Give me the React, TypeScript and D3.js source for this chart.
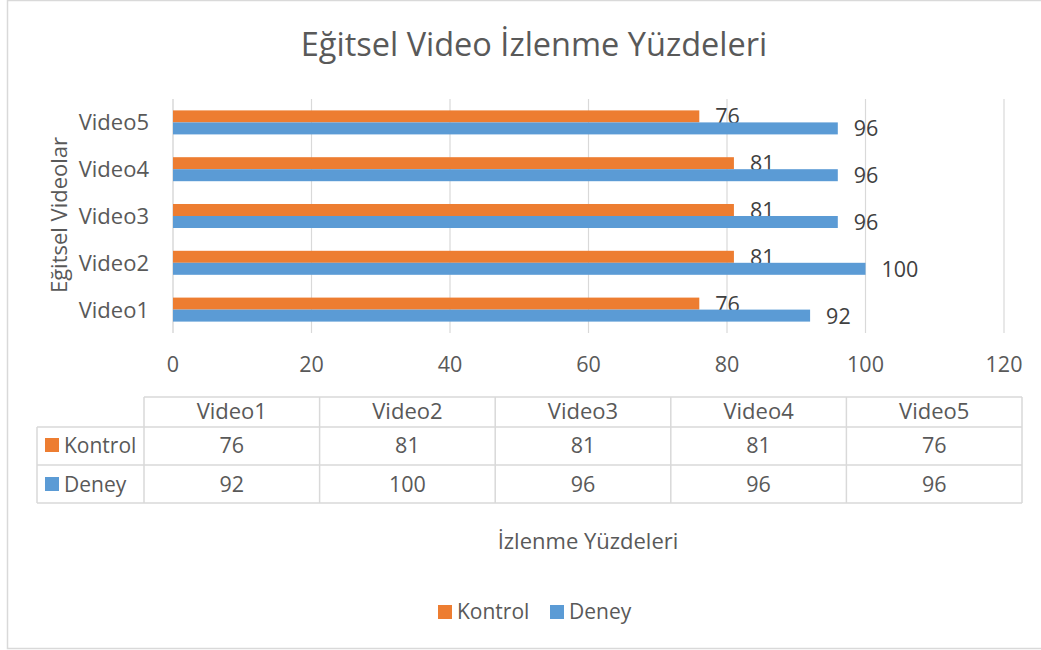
import { useEffect, useRef } from 'react';
import * as d3 from 'd3';

const categories = ["Video1", "Video2", "Video3", "Video4", "Video5"];
const seriesNames = ["Kontrol", "Deney"];
const kontrolValues = [76, 81, 81, 81, 76];
const deneyValues = [92, 100, 96, 96, 96];
const xTicks = [0, 20, 40, 60, 80, 100, 120];

const COLORS: Record<string, string> = {
  "Kontrol": "#ED7D31",
  "Deney": "#5B9BD5"
};

const TEXT = "#595959";
const GRID = "#D9D9D9";
const FONT = "'Open Sans', sans-serif";
const LABEL_SIZE = "22px";
const NUM_SIZE = "21.5px";

export default function App() {
  const svgRef = useRef<SVGSVGElement>(null);

  useEffect(() => {
    if (!svgRef.current) return;
    const width = 1041;
    const height = 650;
    const svg = d3.select(svgRef.current);
    svg.selectAll("*").remove();
    svg.attr("width", width).attr("height", height).style("font-family", FONT);

    const seriesValues: Record<string, number[]> = {
      "Kontrol": kontrolValues,
      "Deney": deneyValues
    };

    // chart background + border
    svg.append("rect")
      .attr("x", 7.5).attr("y", 0.5)
      .attr("width", width + 10).attr("height", 648)
      .attr("fill", "#fff")
      .attr("stroke", GRID)
      .attr("stroke-width", 1.5);

    // title
    svg.append("text")
      .attr("x", 534).attr("y", 56)
      .attr("text-anchor", "middle")
      .attr("fill", TEXT)
      .style("font-size", "32.5px")
      .text("Eğitsel Video İzlenme Yüzdeleri");

    // scales
    const x = d3.scaleLinear().domain([0, 120]).range([173, 1004]);
    const y = d3.scaleBand()
      .domain([...categories].reverse())
      .range([99, 333])
      .paddingInner(0.487)
      .paddingOuter(0.2435);
    const ySub = d3.scaleBand()
      .domain(seriesNames)
      .range([0, y.bandwidth()]);

    // grid
    svg.append("g")
      .selectAll("line")
      .data(xTicks)
      .join("line")
      .attr("x1", d => x(d)).attr("x2", d => x(d))
      .attr("y1", 99).attr("y2", 333)
      .attr("stroke", GRID)
      .attr("stroke-width", d => d === 0 ? 1.5 : 1.2);

    // x tick labels
    svg.append("g")
      .selectAll("text")
      .data(xTicks)
      .join("text")
      .attr("x", d => x(d))
      .attr("y", 372)
      .attr("text-anchor", "middle")
      .attr("fill", TEXT)
      .style("font-size", NUM_SIZE)
      .text(d => d);

    // category labels
    svg.append("g")
      .selectAll("text")
      .data(categories)
      .join("text")
      .attr("x", 149)
      .attr("y", d => (y(d) as number) + y.bandwidth() / 2 + 8)
      .attr("text-anchor", "end")
      .attr("fill", TEXT)
      .style("font-size", LABEL_SIZE)
      .text(d => d);

    // y axis title
    svg.append("text")
      .attr("transform", "translate(67,215) rotate(-90)")
      .attr("text-anchor", "middle")
      .attr("fill", TEXT)
      .style("font-size", LABEL_SIZE)
      .text("Eğitsel Videolar");

    // bars + labels
    seriesNames.forEach(s => {
      const vals = seriesValues[s];
      const rows = categories.map((c, i) => ({ c, v: vals[i] }));
      svg.append("g")
        .selectAll("rect")
        .data(rows)
        .join("rect")
        .attr("x", x(0))
        .attr("y", d => (y(d.c) as number) + (ySub(s) as number))
        .attr("width", d => x(d.v) - x(0))
        .attr("height", ySub.bandwidth())
        .attr("fill", COLORS[s]);

      svg.append("g")
        .selectAll("text")
        .data(rows)
        .join("text")
        .attr("x", d => x(d.v) + 16)
        .attr("y", d => (y(d.c) as number) + (ySub(s) as number) + ySub.bandwidth() / 2 + 8)
        .attr("fill", "#404040")
        .style("font-size", NUM_SIZE)
        .text(d => d.v);
    });

    // data table
    const col = d3.scaleBand().domain(categories).range([144, 1022]);
    const rowTops = [397, 427, 465, 503];
    const tbl = svg.append("g");
    const line = (x1: number, y1: number, x2: number, y2: number) =>
      tbl.append("line")
        .attr("x1", x1).attr("y1", y1).attr("x2", x2).attr("y2", y2)
        .attr("stroke", GRID).attr("stroke-width", 1.5);

    line(144, rowTops[0], 1022, rowTops[0]);
    rowTops.slice(1).forEach(r => line(37, r, 1022, r));
    line(37, rowTops[1], 37, rowTops[3]);
    categories.forEach(c => line(col(c) as number, rowTops[0], col(c) as number, rowTops[3]));
    line(1022, rowTops[0], 1022, rowTops[3]);

    tbl.selectAll(".hdr")
      .data(categories)
      .join("text")
      .attr("class", "hdr")
      .attr("x", d => (col(d) as number) + col.bandwidth() / 2)
      .attr("y", 419)
      .attr("text-anchor", "middle")
      .attr("fill", TEXT)
      .style("font-size", LABEL_SIZE)
      .text(d => d);

    const rowBase = [453, 492];
    seriesNames.forEach((s, si) => {
      tbl.append("rect")
        .attr("x", 45).attr("y", rowBase[si] - 15)
        .attr("width", 14).attr("height", 14)
        .attr("fill", COLORS[s]);
      tbl.append("text")
        .attr("x", 64).attr("y", rowBase[si])
        .attr("fill", TEXT)
        .style("font-size", "21px")
        .text(s);
      tbl.append("g")
        .selectAll("text")
        .data(seriesValues[s])
        .join("text")
        .attr("x", (_, i) => (col(categories[i]) as number) + col.bandwidth() / 2)
        .attr("y", rowBase[si])
        .attr("text-anchor", "middle")
        .attr("fill", TEXT)
        .style("font-size", NUM_SIZE)
        .text(d => d);
    });

    // x axis title
    svg.append("text")
      .attr("x", 588).attr("y", 549)
      .attr("text-anchor", "middle")
      .attr("fill", TEXT)
      .style("font-size", LABEL_SIZE)
      .text("İzlenme Yüzdeleri");

    // legend
    const legendX = [438, 550];
    seriesNames.forEach((s, i) => {
      svg.append("rect")
        .attr("x", legendX[i]).attr("y", 605)
        .attr("width", 14).attr("height", 14)
        .attr("fill", COLORS[s]);
      svg.append("text")
        .attr("x", legendX[i] + 19).attr("y", 619)
        .attr("fill", TEXT)
        .style("font-size", "21px")
        .text(s);
    });
  }, []);

  return (
    <div style={{ position: "absolute", left: 0, top: 0 }}>
      <svg ref={svgRef} style={{ display: "block" }}></svg>
    </div>
  );
}
